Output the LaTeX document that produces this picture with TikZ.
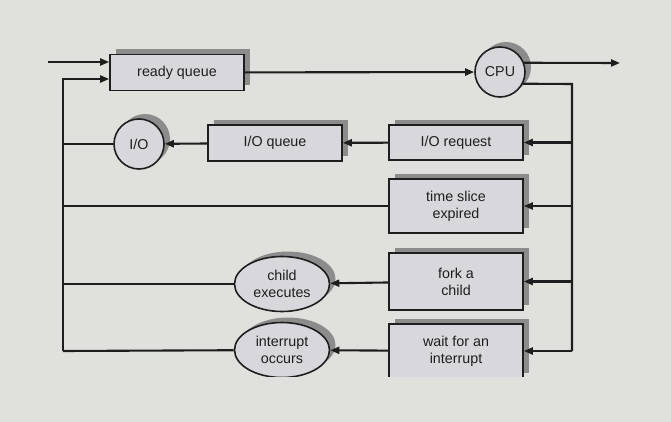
\documentclass[tikz,border=0pt]{standalone}
\usepackage{fontspec}
\setmainfont{Liberation Sans}
\usepackage{xcolor}
\usepackage{tikz}
\usetikzlibrary{arrows.meta,positioning,calc,shapes.geometric,shadows}

\definecolor{bgcol}{RGB}{224,224,220}
\definecolor{boxcol}{RGB}{216,215,220}
\definecolor{shcol}{RGB}{140,140,140}
\definecolor{inkcol}{RGB}{30,30,30}

\begin{document}
\begin{tikzpicture}[
  x=1pt, y=-1pt,
  font=\fontsize{14.3}{17}\selectfont,
  shad/.style={drop shadow={shadow xshift=6pt, shadow yshift=5pt, fill=shcol, opacity=1}},
  qbox/.style={rectangle, draw=inkcol, line width=1.6pt, fill=boxcol, shad,
    minimum width=134pt, align=center, inner sep=2pt, text=inkcol},
  qcirc/.style={circle, draw=inkcol, line width=1.6pt, fill=boxcol, shad,
    minimum size=50pt, inner sep=1pt, text=inkcol},
  qoval/.style={ellipse, draw=inkcol, line width=1.6pt, fill=boxcol, shad,
    minimum width=95pt, minimum height=55pt, inner sep=0pt, align=center, text=inkcol},
  qline/.style={draw=inkcol, line width=2.1pt},
  qarrow/.style={qline, -{Triangle[length=9pt, width=7pt]}}
]
\fill[bgcol] (0,0) rectangle (671,422);
\useasboundingbox (0,0) rectangle (671,422);
\begin{scope}
\clip (0,0) rectangle (671,376);
\node[qbox, minimum height=36pt] (ready) at (177,72.5) {ready queue};
\node[qcirc] (cpu) at (500,72) {CPU};
\node[qbox, minimum height=35pt] (ioreq) at (456,142.5) {I/O request};
\node[qbox, minimum height=36pt] (ioq) at (275,143) {I/O queue};
\node[qcirc] (io) at (139,144) {I/O};
\node[qbox, minimum height=54pt] (slice) at (456,206) {time slice\\expired};
\node[qbox, minimum height=57pt] (fork) at (456,281.5) {fork a\\child};
\node[qbox, minimum height=54pt] (waitint) at (456,351) {wait for an\\interrupt};
\node[qoval] (child) at (282,284) {child\\executes};
\node[qoval] (intr) at (282,350) {interrupt\\occurs};

\coordinate (start) at (48,62);
\coordinate (outend) at (620,63);
\coordinate (ltop) at (63,79);
\coordinate (lbot) at (63,351);
\coordinate (rtop) at (572,84);
\coordinate (rbot) at (572,351);

\draw[qarrow] (start) -- (start -| ready.west);
\draw[qarrow] (ready) -- (cpu);
\draw[qarrow] (cpu.21) -- (outend);
\draw[qline] (cpu.-27) -- (rtop) -- (rbot);
\draw[qarrow] (rbot) -- (waitint.east);
\draw[qarrow] (ioreq.east -| rtop) -- (ioreq.east);
\draw[qarrow] (slice.east -| rtop) -- (slice.east);
\draw[qarrow] (fork.east -| rtop) -- (fork.east);
\draw[qarrow] (ioreq) -- (ioq);
\draw[qarrow] (ioq) -- (io);
\draw[qarrow] (fork) -- (child);
\draw[qarrow] (waitint) -- (intr);
\draw[qarrow] (lbot) -- (ltop) -- (ltop -| ready.west);
\draw[qline] (io) -- (io -| ltop);
\draw[qline] (slice) -- (slice -| ltop);
\draw[qline] (child) -- (child -| ltop);
\draw[qline] (intr) -- (lbot);
\end{scope}
\end{tikzpicture}
\end{document}
